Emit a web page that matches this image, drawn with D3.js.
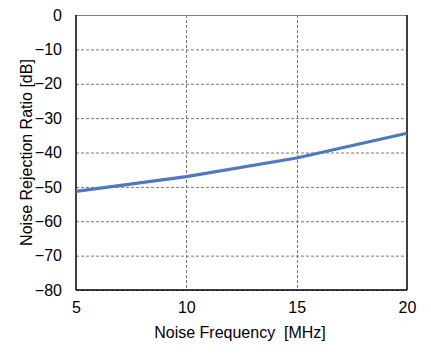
<!DOCTYPE html>
<html>
<head>
<meta charset="utf-8">
<script src="https://cdn.jsdelivr.net/npm/d3@7"></script>
<style>
  body { margin: 0; background: #fff; }
  text { font-family: "Liberation Sans", Arial, sans-serif; }
</style>
</head>
<body>
<svg id="chart" width="431" height="361"></svg>
<script>
// noise frequency in MHz vs rejection ratio in dB
var freqs = [5, 10, 15, 20];
var rejection = [-51.3, -47.0, -41.6, -34.4];
var xTicks = [5, 10, 15, 20];
var yTicks = [0, -10, -20, -30, -40, -50, -60, -70, -80];

// plot box (window.top is reserved, so use other names)
var pLeft = 76, pRight = 407, pTop = 15, pBottom = 290;

var svg = d3.select("#chart");

var x = d3.scaleLinear().domain([5, 20]).range([pLeft, pRight]);
var y = d3.scaleLinear().domain([-80, 0]).range([pBottom, pTop]);

// grid
svg.selectAll(".hgrid")
  .data(yTicks)
  .enter()
  .append("line")
  .attr("x1", pLeft).attr("x2", pRight)
  .attr("y1", function(d) { return y(d) + 0.5; })
  .attr("y2", function(d) { return y(d) + 0.5; })
  .attr("stroke", "#7a7a72")
  .attr("stroke-width", 1)
  .attr("stroke-dasharray", "3,2");

svg.selectAll(".vgrid")
  .data(xTicks.slice(1, -1))
  .enter()
  .append("line")
  .attr("y1", pTop).attr("y2", pBottom)
  .attr("x1", function(d) { return Math.round(x(d)) + 0.5; })
  .attr("x2", function(d) { return Math.round(x(d)) + 0.5; })
  .attr("stroke", "#7a7a72")
  .attr("stroke-width", 1)
  .attr("stroke-dasharray", "3,2");

// frame: top is gray, others black
svg.append("line").attr("x1", pLeft).attr("x2", pRight).attr("y1", pTop + 0.5).attr("y2", pTop + 0.5)
  .attr("stroke", "#808080").attr("stroke-width", 1);
svg.append("line").attr("x1", pRight).attr("x2", pRight).attr("y1", pTop).attr("y2", pBottom)
  .attr("stroke", "#000").attr("stroke-width", 1.5);
svg.append("line").attr("x1", pLeft).attr("x2", pLeft).attr("y1", pTop).attr("y2", pBottom)
  .attr("stroke", "#000").attr("stroke-width", 1.5);
svg.append("line").attr("x1", pLeft).attr("x2", pRight).attr("y1", pBottom).attr("y2", pBottom)
  .attr("stroke", "#000").attr("stroke-width", 1.5);

// axes
var xAxis = svg.append("g")
  .attr("transform", "translate(0," + pBottom + ")")
  .call(d3.axisBottom(x).tickValues(xTicks).tickSize(0).tickPadding(12));
var yAxis = svg.append("g")
  .attr("transform", "translate(" + pLeft + ",0)")
  .call(d3.axisLeft(y).tickValues(yTicks).tickSize(0).tickPadding(14));

[xAxis, yAxis].forEach(function(g) {
  g.select(".domain").remove();
  g.attr("font-size", 16).attr("font-family", "'Liberation Sans', Arial, sans-serif");
  g.selectAll("text").attr("fill", "#000");
});

// data line
var line = d3.line()
  .x(function(d, i) { return x(freqs[i]); })
  .y(function(d) { return y(d); });

svg.append("path")
  .datum(rejection)
  .attr("d", line)
  .attr("fill", "none")
  .attr("stroke", "#4f79be")
  .attr("stroke-width", 3.2);

// titles
svg.append("text")
  .attr("x", 240)
  .attr("y", 338)
  .attr("text-anchor", "middle")
  .attr("font-size", 16)
  .text("Noise Frequency  [MHz]")
  .style("white-space", "pre");

svg.append("text")
  .attr("transform", "translate(32," + ((pTop + pBottom) / 2) + ") rotate(-90)")
  .attr("text-anchor", "middle")
  .attr("font-size", 16)
  .text("Noise Rejection Ratio [dB]");
</script>
</body>
</html>
